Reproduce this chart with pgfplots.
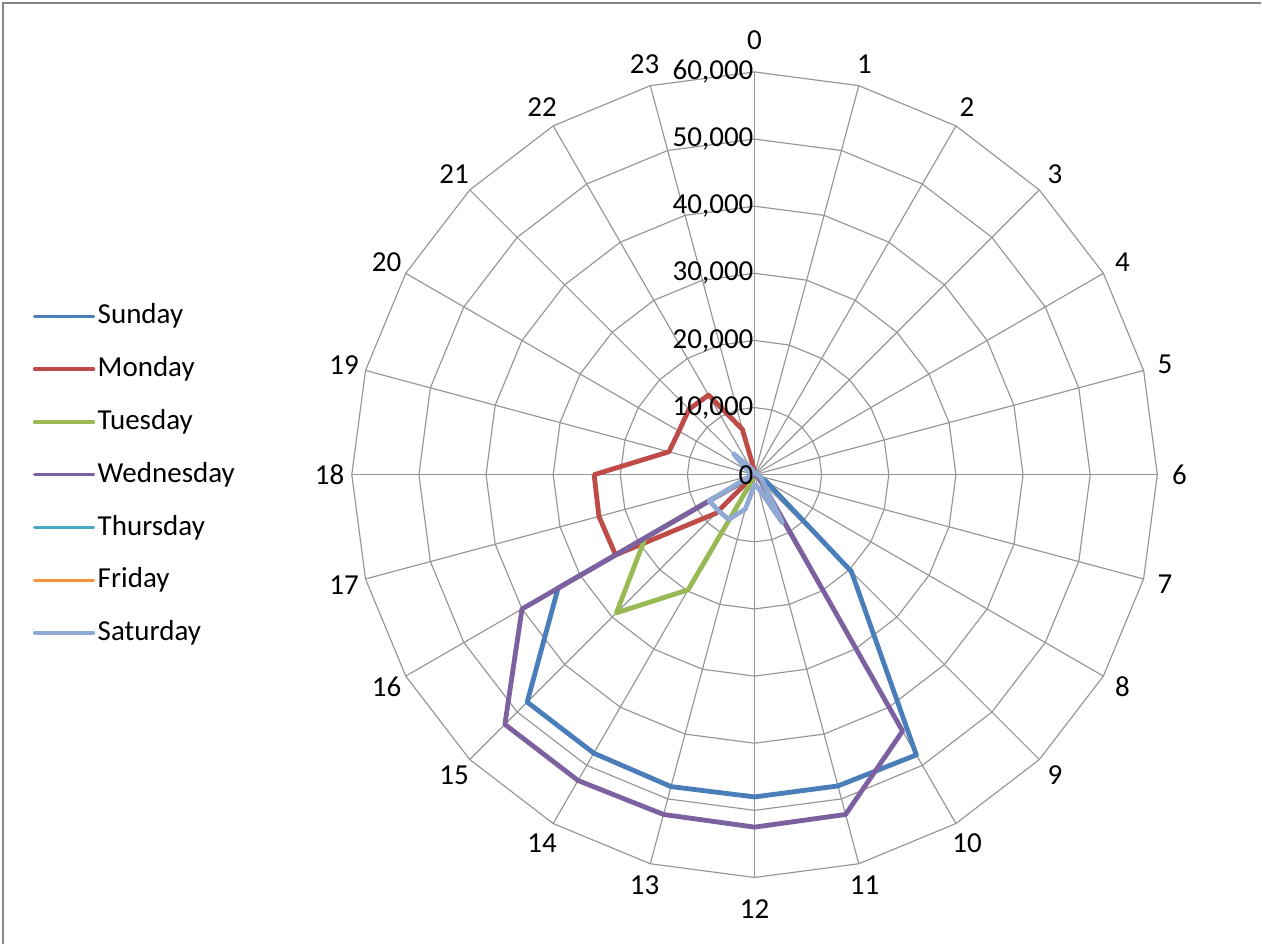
\documentclass[border=0pt]{standalone}
\usepackage{fontspec}
\setmainfont{Carlito}
\usepackage{pgfplots}
\usepackage{pgfplotstable}
\pgfplotsset{compat=1.18}

\definecolor{sunc}{RGB}{74,126,187}
\definecolor{monc}{RGB}{190,75,72}
\definecolor{tuec}{RGB}{152,185,84}
\definecolor{wedc}{RGB}{125,96,160}
\definecolor{thuc}{RGB}{70,170,197}
\definecolor{fric}{RGB}{246,146,64}
\definecolor{satc}{RGB}{145,170,212}
\definecolor{gridc}{RGB}{150,150,150}
\definecolor{framec}{RGB}{134,134,134}

% Hourly counts per weekday (hour 24 repeats hour 0 to close each polygon)
\pgfplotstableread{
h   sun    mon    tue    wed    thu  fri  sat
0   0      500    0      0      0    0    600
1   0      0      0      0      0    0    300
2   0      0      0      0      0    0    200
3   0      0      0      0      0    0    200
4   0      0      0      0      0    0    200
5   0      0      0      0      0    0    300
6   0      0      0      0      0    0    500
7   0      0      0      0      0    0    800
8   2000   0      0      500    0    0    1200
9   20400  0      0      1500   0    0    2000
10  48200  0      0      44100  0    0    8200
11  48000  0      0      52400  0    0    2000
12  48000  0      0      52500  0    0    1500
13  48100  0      500    52400  0    0    5300
14  47900  0      19800  52600  0    0    7700
15  47900  8100   29100  52600  0    0    7600
16  33800  23900  18800  40000  0    0    7800
17  0      24000  0      0      0    0    600
18  0      23900  0      0      0    0    500
19  0      13200  0      0      0    0    700
20  0      13000  0      0      0    0    1200
21  0      13800  0      0      0    0    4400
22  0      13700  0      0      0    0    1200
23  0      7000   0      0      0    0    600
24  0      500    0      0      0    0    600
}\hours

% one radar series: hour -> angle (clockwise from top), value in thousands -> radius
\newcommand{\radar}[3]{%
  \addplot[#2] table[x expr={\thisrow{#1}/1000*sin(15*\thisrow{h})},
                     y expr={\thisrow{#1}/1000*cos(15*\thisrow{h})}] {\hours};
  \addlegendentry{#3}}

\begin{document}
\begin{tikzpicture}[font=\fontsize{17.4}{20}\selectfont]
\begin{axis}[
  scale only axis, width=757.2pt, height=567pt,
  xmin=-112.407, xmax=75.484, ymin=-69.975, ymax=70.719,
  hide axis, clip=false,
  every axis plot/.append style={line width=2.9pt, line join=round, no markers},
  legend cell align=left,
  legend style={at={(axis cs:-107.5,0)}, anchor=west, draw=none, fill=none,
    inner sep=0pt, outer sep=0pt, row sep=14.7pt,
    font=\fontsize{17.4}{20}\selectfont,
    nodes={inner xsep=1.5pt, inner ysep=0pt, text height=13pt, text depth=4pt}},
  legend image code/.code={\draw[#1, line width=2pt, line cap=round] (0pt,0pt) -- (35.4pt,0pt);},
]
% page extent and chart frame
\path (rel axis cs:0,0) rectangle (rel axis cs:1,1);
\draw[framec, line width=0.9pt] (rel axis cs:0.0024,0) -- (rel axis cs:0.0024,0.9968) -- (rel axis cs:1,0.9968);

% spokes
\pgfplotsinvokeforeach{0,...,23}{
  \draw[gridc, line width=0.7pt] (axis cs:0,0) -- (axis cs:{60*sin(15*#1)},{60*cos(15*#1)});
}
% value rings (24-gons)
\pgfplotsinvokeforeach{1,...,6}{
  \draw[gridc, line width=0.7pt] (axis cs:0,#1*10)
    \foreach \k in {1,...,23} { -- (axis cs:{#1*10*sin(15*\k)},{#1*10*cos(15*\k)}) } -- cycle;
}

\radar{sun}{sunc}{Sunday}
\radar{mon}{monc}{Monday}
\radar{tue}{tuec}{Tuesday}
\radar{wed}{wedc}{Wednesday}
\radar{thu}{thuc}{Thursday}
\radar{fri}{fric}{Friday}
\radar{sat}{satc}{Saturday}

% value labels along the 0 spoke
\node[anchor=east, inner sep=0.5pt] at (axis cs:0,0) {0};
\pgfplotsinvokeforeach{1,...,6}{
  \node[anchor=east, inner sep=0.5pt] at (axis cs:0,#1*10) {#10,000};
}
% hour labels
\pgfplotsinvokeforeach{1,...,11,13,14,...,23}{
  \node at (axis cs:{63.3*sin(15*#1)},{63.3*cos(15*#1)}) {#1};
}
\node at (axis cs:0,64.76) {0};
\node at (axis cs:0,-64.76) {12};
\end{axis}
\end{tikzpicture}
\end{document}
